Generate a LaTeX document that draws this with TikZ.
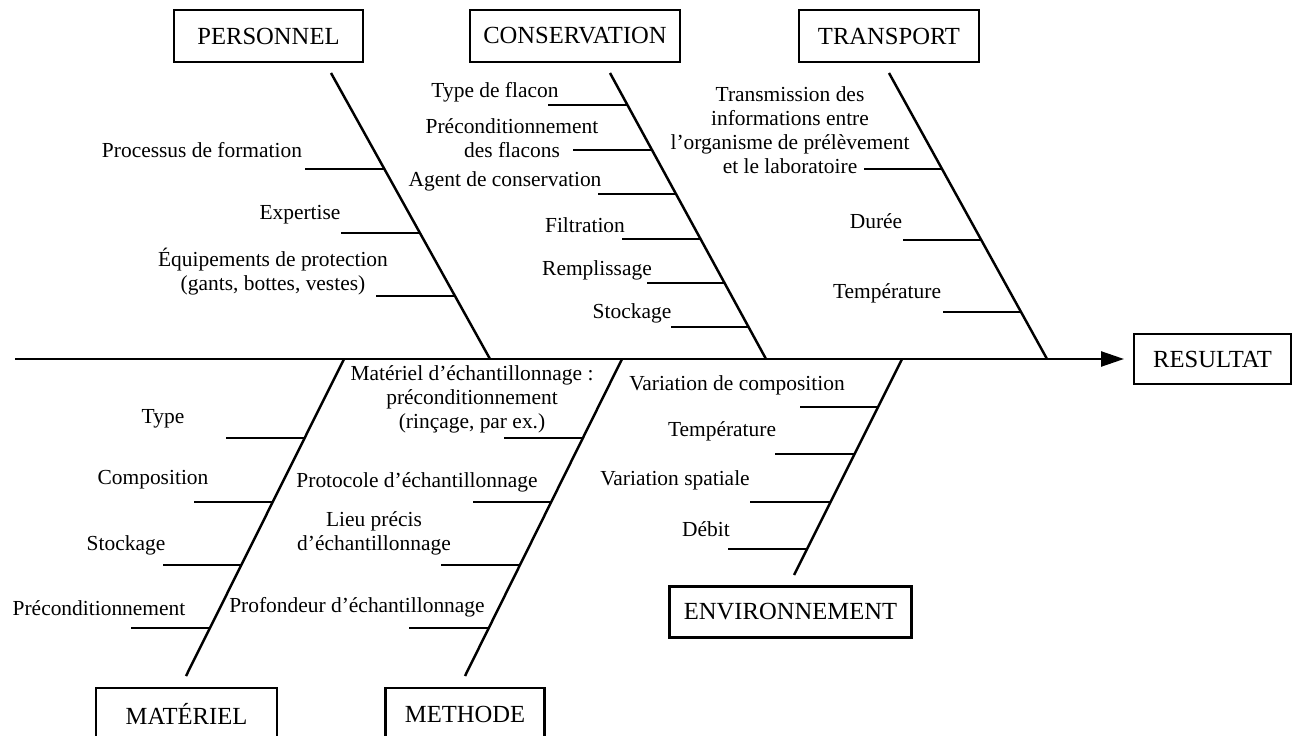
\documentclass[tikz,border=0pt]{standalone}
\usepackage{fontspec}
\setmainfont{Liberation Serif}
\usetikzlibrary{arrows.meta,calc}

\tikzset{
  cause/.style={draw, line width=1.3pt, minimum height=1.04cm, inner sep=0pt, font=\fontsize{14}{16}\selectfont},
  item/.style={align=center, inner sep=0pt, font=\fontsize{12.2}{13.6}\selectfont},
  bone/.style={line width=1.4pt},
  twig/.style={line width=1.05pt}
}

\begin{document}
\begin{tikzpicture}[x=0.02cm, y=-0.02cm, >={Triangle[length=0.46cm,width=0.3cm]}]
\clip (0,0) rectangle (1294,736);

% spine and effect
\coordinate (tail) at (15,359);
\coordinate (head) at (1124,359);
\node[cause, minimum width=3.14cm, minimum height=1.0cm] (res) at (1212.5,359) {RESULTAT};
\draw[bone, ->] (tail) -- (head);

% cause boxes
\node[cause, minimum width=3.78cm] (pers) at (268.5,36) {PERSONNEL};
\node[cause, minimum width=4.2cm] (cons) at (575,36) {CONSERVATION};
\node[cause, minimum width=3.6cm] (trans) at (889,36) {TRANSPORT};
\node[cause, minimum width=3.62cm] (mat) at (186.5,714) {MATÉRIEL};
\node[cause, minimum width=3.18cm] (meth) at (465,714) {METHODE};
\node[cause, minimum width=4.84cm, minimum height=1.02cm] (env) at (790.5,612) {ENVIRONNEMENT};

% bones
\coordinate (p1) at (331,73);  \coordinate (p2) at (490,359);
\coordinate (c1) at (610,73);  \coordinate (c2) at (766,359);
\coordinate (t1) at (889,73);  \coordinate (t2) at (1047,359);
\coordinate (m1) at (344,359); \coordinate (m2) at (186,676);
\coordinate (h1) at (622,359); \coordinate (h2) at (465,676);
\coordinate (e1) at (902,359); \coordinate (e2) at (794,575);
\draw[bone] (p1) -- (p2);
\draw[bone] (c1) -- (c2);
\draw[bone] (t1) -- (t2);
\draw[bone] (m1) -- (m2);
\draw[bone] (h1) -- (h2);
\draw[bone] (e1) -- (e2);

% PERSONNEL
\node[item] (pform) at (202,150) {Processus de formation};
\node[item] (pexp) at (300,215) {Expertise};
\node[item] (pequ) at (273,271.5) {Équipements de protection\\(gants, bottes, vestes)};
\draw[twig] (305,169) -- (384,169);
\draw[twig] (341,233) -- (420,233);
\draw[twig] (376,296) -- (455,296);

% CONSERVATION
\node[item] (ctype) at (495,92) {Type de flacon};
\node[item] (cpre) at (512,138) {Préconditionnement\\des flacons};
\node[item] (cagent) at (505,181) {Agent de conservation};
\node[item] (cfilt) at (585,225) {Filtration};
\node[item] (crem) at (597,270) {Remplissage};
\node[item] (csto) at (632,313) {Stockage};
\draw[twig] (548,105) -- (627,105);
\draw[twig] (573,150) -- (652,150);
\draw[twig] (598,194) -- (676,194);
\draw[twig] (622,239) -- (700,239);
\draw[twig] (647,283) -- (724,283);
\draw[twig] (671,327) -- (748,327);

% TRANSPORT
\node[item] (ttrans) at (790,130) {Transmission des\\informations entre\\l’organisme de prélèvement\\et le laboratoire};
\node[item] (tdur) at (876,221) {Durée};
\node[item] (ttemp) at (887,293) {Température};
\draw[twig] (864,169) -- (942,169);
\draw[twig] (903,240) -- (981,240);
\draw[twig] (943,312) -- (1021,312);

% MATÉRIEL
\node[item] (mtype) at (163,419) {Type};
\node[item] (mcomp) at (153,480) {Composition};
\node[item] (msto) at (126,545) {Stockage};
\node[item] (mpre) at (99,608) {Préconditionnement};
\draw[twig] (226,438) -- (305,438);
\draw[twig] (194,502) -- (273,502);
\draw[twig] (163,565) -- (241,565);
\draw[twig] (131,628) -- (210,628);

% METHODE
\node[item] (hmat) at (472,399) {Matériel d’échantillonnage :\\préconditionnement\\(rinçage, par ex.)};
\node[item] (hprot) at (417,482) {Protocole d’échantillonnage};
\node[item] (hlieu) at (374,533) {Lieu précis\\d’échantillonnage};
\node[item] (hprof) at (357,607) {Profondeur d’échantillonnage};
\draw[twig] (504,438) -- (583,438);
\draw[twig] (473,502) -- (551,502);
\draw[twig] (441,565) -- (520,565);
\draw[twig] (409,628) -- (489,628);

% ENVIRONNEMENT
\node[item] (evar) at (737,385) {Variation de composition};
\node[item] (etemp) at (722,431) {Température};
\node[item] (espa) at (675,480) {Variation spatiale};
\node[item] (edeb) at (706,529) {Débit};
\draw[twig] (800,407) -- (878,407);
\draw[twig] (775,454) -- (855,454);
\draw[twig] (750,502) -- (831,502);
\draw[twig] (728,549) -- (807,549);

\end{tikzpicture}
\end{document}
